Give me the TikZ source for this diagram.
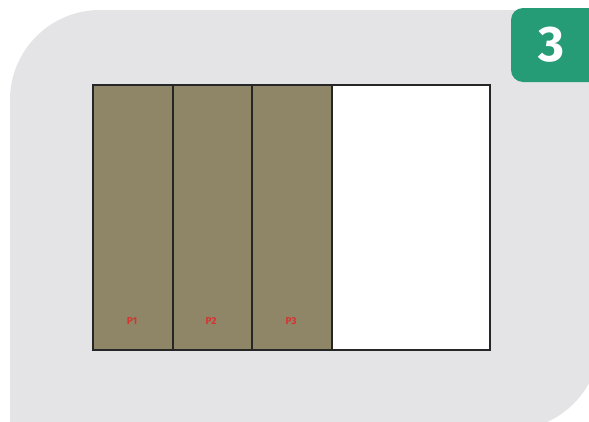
\documentclass[tikz,border=0pt]{standalone}
\usepackage{fontspec}
\setmainfont{Fira Sans}
\definecolor{bggray}{RGB}{228,228,231}
\definecolor{badge}{RGB}{38,156,118}
\definecolor{olive}{RGB}{143,134,104}
\definecolor{lbl}{RGB}{214,52,48}
\begin{document}
\begin{tikzpicture}[x=1pt,y=-1pt,
  panel/.style={draw=black!85,line width=1.6pt,fill=olive},
  plabel/.style={text=lbl,font=\bfseries\fontsize{10}{11}\selectfont,inner sep=0pt}]
\useasboundingbox (0,0) rectangle (589,421);
\fill[white] (0,0) rectangle (589,421);
% background card
\begin{scope}
\clip (0,0) rectangle (589,421);
\fill[bggray] (10,100) arc[start angle=180,end angle=270,radius=90] -- (600,10) -- (600,340)
  arc[start angle=0,end angle=90,radius=90] -- (10,430) -- cycle;
% badge
\fill[badge,rounded corners=12pt] (600,8) -- (511,8) -- (511,82) -- (600,82);
\end{scope}
\node[text=white,font=\bfseries\fontsize{50}{50}\selectfont,inner sep=0pt] (num) at (551,45) {3};
% frame
\node[draw=black!85,line width=1.6pt,fill=white,minimum width=397pt,minimum height=265pt,inner sep=0pt,anchor=north west] (frame) at (92,84) {};
\node[panel,minimum width=80pt,minimum height=265pt,inner sep=0pt,anchor=north west] (p1) at (92,84) {};
\node[panel,minimum width=79pt,minimum height=265pt,inner sep=0pt,anchor=north west] (p2) at (172,84) {};
\node[panel,minimum width=80pt,minimum height=265pt,inner sep=0pt,anchor=north west] (p3) at (251,84) {};
\node[plabel] (l1) at (132,321) {P1};
\node[plabel] (l2) at (211,321) {P2};
\node[plabel] (l3) at (291,321) {P3};
\end{tikzpicture}
\end{document}
